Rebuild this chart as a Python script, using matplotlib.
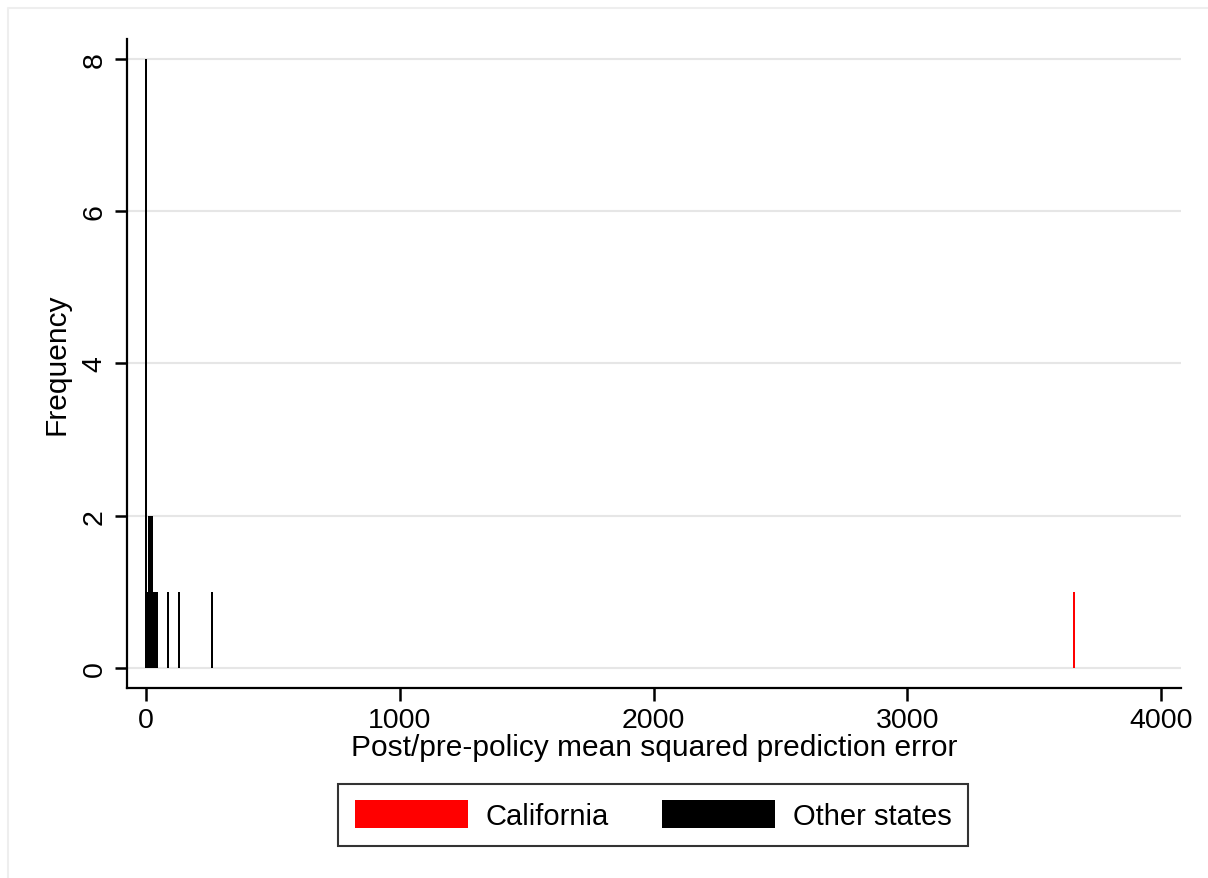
import matplotlib
matplotlib.use("Agg")
import matplotlib.pyplot as plt
from matplotlib.lines import Line2D
from matplotlib.patches import Patch

plt.rcParams['font.family'] = ['Liberation Sans', 'DejaVu Sans']

# histogram bins of the post/pre ratio of MSPE (bin centre, count)
other_centres = [0, 6, 12, 18, 24, 30, 36, 42, 87, 130, 260]
other_counts = [8, 1, 2, 2, 2, 1, 1, 1, 1, 1, 1]
ca_centres = [3656]
ca_counts = [1]
bin_width = 7

y_ticks = [0, 2, 4, 6, 8]
x_ticks = [0, 1000, 2000, 3000, 4000]

fig = plt.figure(figsize=(12.08, 8.79), dpi=100)
# faint graph-region edge along the top and left
fig.lines.append(Line2D([8 / 1208, 8 / 1208, 1.0], [0.0, 1 - 9 / 879, 1 - 9 / 879],
                        transform=fig.transFigure, color='#eeeeee', linewidth=1.5))
ax = fig.add_axes([127 / 1208, 1 - 689 / 879, (1181 - 127) / 1208, (689 - 40) / 879])

ax.bar(ca_centres, ca_counts, width=bin_width, color='#ff0000', linewidth=0, zorder=3)
ax.bar(other_centres, other_counts, width=bin_width, color='black', linewidth=0, zorder=3)

ax.set_xlim(-75, 4078)
ax.set_ylim(-0.26, 8.26)
ax.set_xticks(x_ticks)
ax.set_yticks(y_ticks)
ax.set_yticklabels([str(t) for t in y_ticks], rotation=90, va='center')
ax.tick_params(labelsize=20.5, length=9, width=1.8, direction='out', pad=5)
ax.grid(axis='y', color='#e6e6e6', linewidth=1.5, zorder=0)
ax.set_axisbelow(True)

for side in ['top', 'right']:
    ax.spines[side].set_visible(False)
for side in ['left', 'bottom']:
    ax.spines[side].set_linewidth(1.6)

ax.set_xlabel('Post/pre-policy mean squared prediction error', fontsize=21.5, labelpad=0)
ax.set_ylabel('Frequency', fontsize=21.5, labelpad=8)

handles = [Patch(facecolor='#ff0000', edgecolor='none'),
           Patch(facecolor='black', edgecolor='none')]
leg = fig.legend(handles, ['California', 'Other states'], loc='center',
                 bbox_to_anchor=(653 / 1208, 1 - 816 / 879), ncol=2, fontsize=21,
                 frameon=True, fancybox=False, handlelength=3.9, handleheight=1.1,
                 columnspacing=1.8, handletextpad=0.6, borderpad=0.55, borderaxespad=0)
leg.get_frame().set_edgecolor('black')
leg.get_frame().set_linewidth(1.5)

plt.savefig('out.png', dpi=100)
